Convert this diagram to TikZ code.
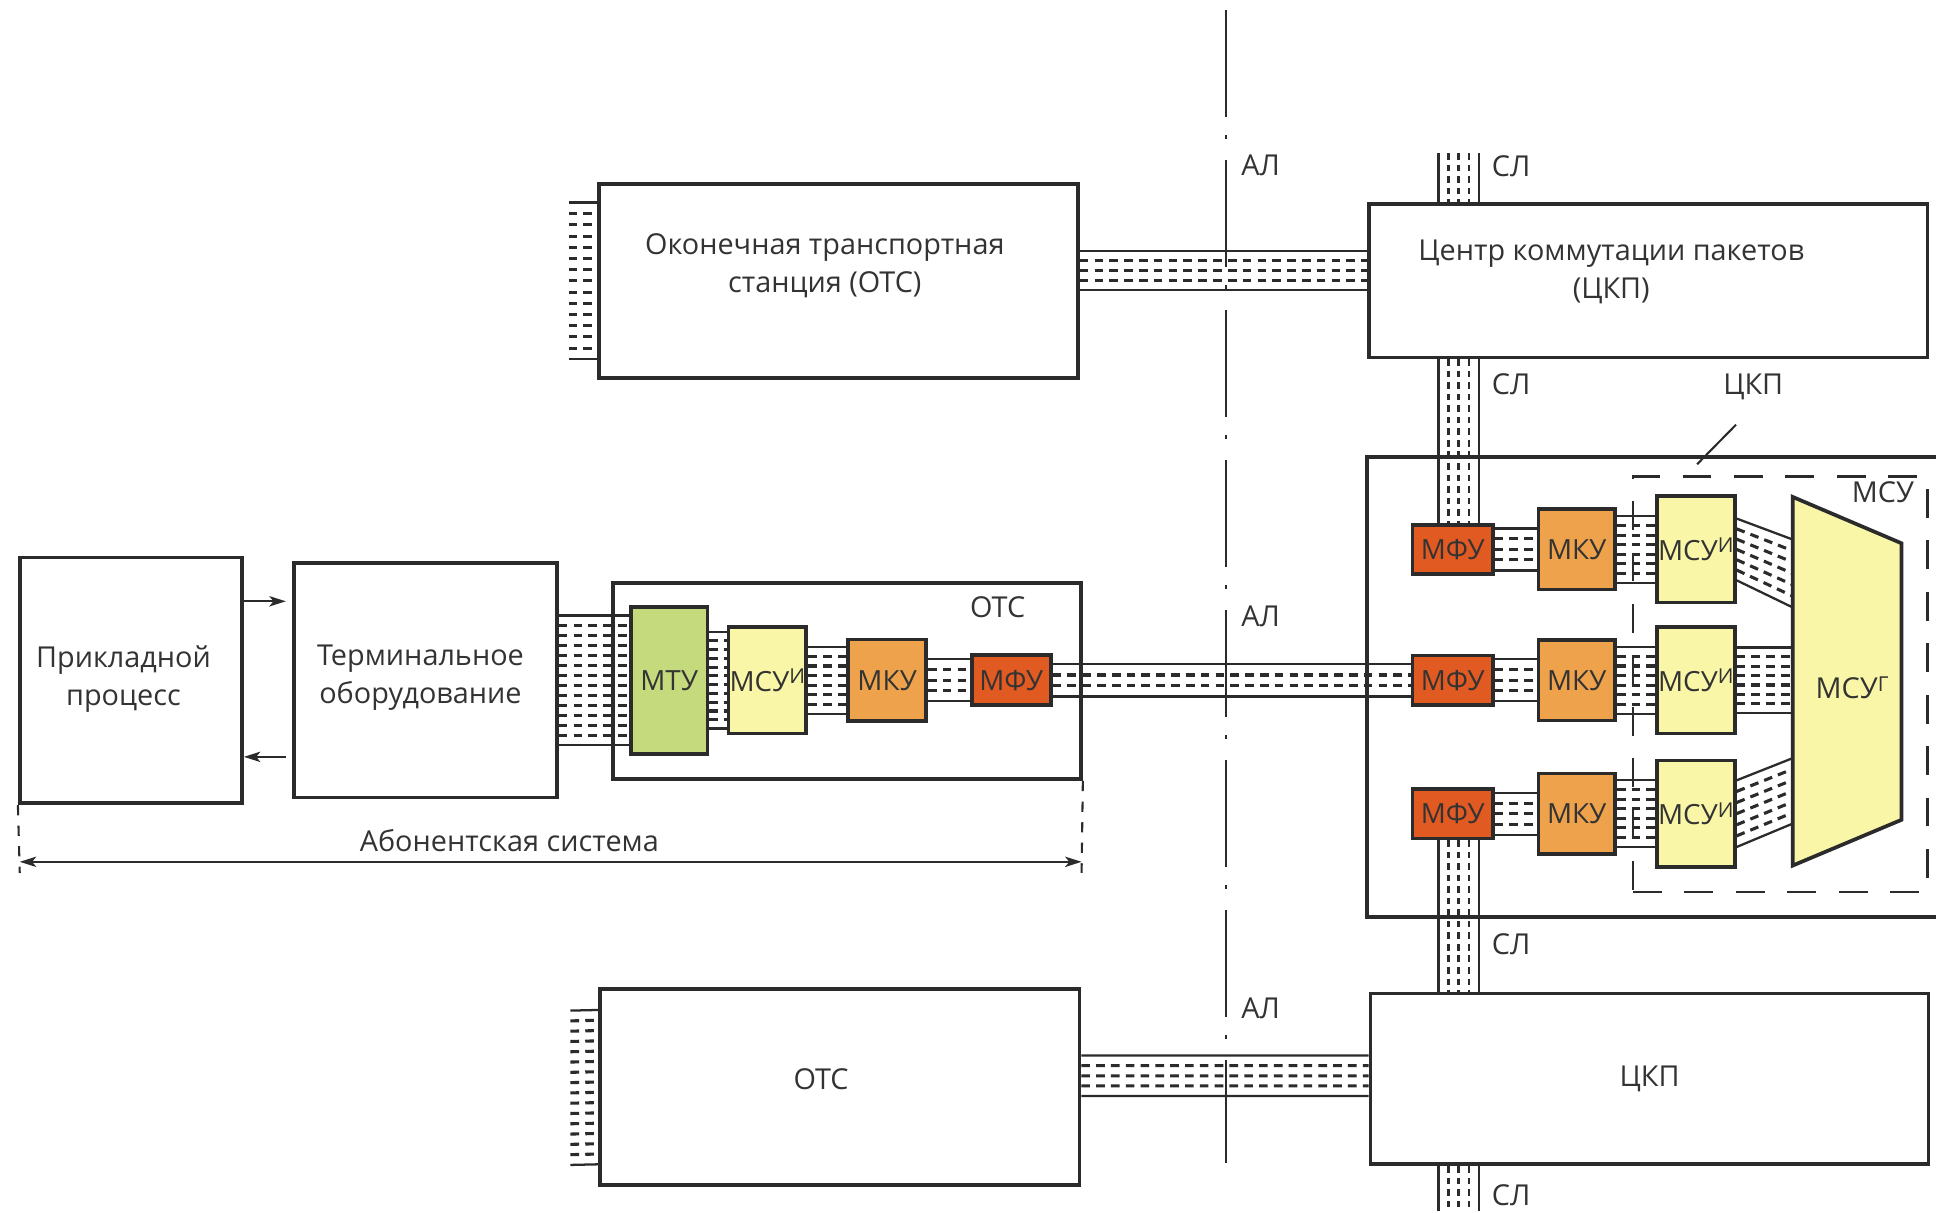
\documentclass[tikz,border=0pt]{standalone}
\usepackage{fontspec}
\setmainfont{Open Sans}
\usetikzlibrary{arrows.meta,calc}
\definecolor{ink}{HTML}{2B2B2B}
\definecolor{txt}{HTML}{333333}
\definecolor{cMTU}{HTML}{C5DA7C}
\definecolor{cMSU}{HTML}{FAF6A8}
\definecolor{cMKU}{HTML}{EEA24C}
\definecolor{cMFU}{HTML}{E15A22}
\newcommand\supi[1]{\raisebox{3.6pt}{\fontsize{10}{10}\selectfont #1}}
\tikzset{
  sz/.style 2 args={minimum width=#1*0.6pt, minimum height=#2*0.6pt},
  bigbox/.style={draw=ink, line width=1.8pt, inner sep=0pt, text=txt, font=\fontsize{14}{18.5}\selectfont, align=center},
  module/.style={draw=ink, line width=1.8pt, inner sep=0pt, text=txt, font=\fontsize{13.5}{16}\selectfont},
  chline/.style={draw=ink, line width=1.1pt},
  chdash/.style={draw=ink, line width=1.5pt, dash pattern=on 4.2pt off 3pt},
  chvdash/.style={draw=ink, line width=1.4pt, dash pattern=on 3.2pt off 2.4pt},
  lbl/.style={text=txt, font=\fontsize{14}{18.5}\selectfont, inner sep=0pt},
  endpt/.style={inner sep=0pt, outer sep=0pt, minimum size=0pt},
  arr/.style={draw=ink, line width=1pt, -{Stealth[length=8pt,width=5pt,inset=2pt]}},
}
% channel: #1 left point, #2 right point, #3 offL, #4 halfL, #5 offR, #6 halfR, #7 rows (disp units, + = up)
\newcommand\chan[7]{%
  \pgfmathsetmacro\chLT{(#3+#4)*0.6}\pgfmathsetmacro\chLB{(#3-#4)*0.6}%
  \pgfmathsetmacro\chRT{(#5+#6)*0.6}\pgfmathsetmacro\chRB{(#5-#6)*0.6}%
  \draw[chline] ($(#1)+(0pt,\chLT pt)$) -- ($(#2)+(0pt,\chRT pt)$);
  \draw[chline] ($(#1)+(0pt,\chLB pt)$) -- ($(#2)+(0pt,\chRB pt)$);
  \foreach \k in {1,...,#7}{%
    \pgfmathsetmacro\chL{(#3+#4-2*#4*\k/(#7+1))*0.6}%
    \pgfmathsetmacro\chR{(#5+#6-2*#6*\k/(#7+1))*0.6}%
    \draw[chdash] ($(#1)+(0pt,\chL pt)$) -- ($(#2)+(0pt,\chR pt)$);
  }%
}
\newcommand\chanH[5]{\chan{#1}{#2}{#3}{#4}{#3}{#4}{#5}}
% vertical channel: #1 top point, #2 bottom point, #3 half width, #4 columns
\newcommand\chanV[4]{%
  \pgfmathsetmacro\cvL{-#3*0.6}\pgfmathsetmacro\cvR{#3*0.6}%
  \draw[chline] ($(#1)+(\cvL pt,0pt)$) -- ($(#2)+(\cvL pt,0pt)$);
  \draw[chline] ($(#1)+(\cvR pt,0pt)$) -- ($(#2)+(\cvR pt,0pt)$);
  \foreach \k in {1,...,#4}{%
    \pgfmathsetmacro\cvX{(-#3+2*#3*\k/(#4+1))*0.6}%
    \draw[chvdash] ($(#1)+(\cvX pt,0pt)$) -- ($(#2)+(\cvX pt,0pt)$);
  }%
}
\begin{document}
\begin{tikzpicture}[x=0.6pt,y=-0.6pt]
\path[fill=white] (0,0) rectangle (1568,982);
\useasboundingbox (0,0) rectangle (1568,982);

% ---- big boxes
\node[bigbox, sz={180}{199}] (proc) at (106,551) {};
\node[lbl, align=center] (procT) at (100,550) {Прикладной\\процесс};
\node[bigbox, sz={213}{190}] (term) at (344.5,551) {};
\node[lbl, align=center] (termT) at (340.5,549) {Терминальное\\оборудование};
\node[bigbox, sz={388}{157.5}] (otsTop) at (679,227.5) {};
\node[lbl, align=center] (otsTopT) at (668,215) {Оконечная транспортная\\станция (ОТС)};
\node[bigbox, sz={452}{124}] (ckpTop) at (1335,227.5) {};
\node[lbl, align=center] (ckpTopT) at (1305,220) {Центр коммутации пакетов\\(ЦКП)};
\node[bigbox, sz={379}{159}] (otsMid) at (686,551.5) {};
\node[lbl] (otsMidT) at (808,492) {ОТС};
\node[bigbox, sz={493}{372.6}] (ckpBig) at (1353.5,556.3) {};
\node[bigbox, sz={388.5}{159}] (otsBot) at (680,880.5) {};
\node[lbl] (otsBotT) at (665,874) {ОТС};
\node[bigbox, sz={452}{138.4}] (ckpBot) at (1336,873.8) {ЦКП};

% ---- dashed MSU box
\node[draw=ink, line width=1.2pt, dash pattern=on 14pt off 11pt, sz={238.4}{336.6}] (msuBox) at (1441.8,554.3) {};
\node[lbl] (msuBoxT) at (1525,399) {МСУ};
\node[lbl] (ckpLbl) at (1420,313) {ЦКП};
\coordinate (slashA) at (1406,344);
\coordinate (slashB) at (1374.5,376);
\draw[ink, line width=1pt] (slashA) -- (slashB);

% ---- modules in middle OTS
\node[module, fill=cMTU, sz={62}{119}] (mtu) at (542,551) {МТУ};
\node[module, fill=cMSU, sz={63}{86}] (msuA) at (621.5,551) {МСУ\supi{И}};
\node[module, fill=cMKU, sz={63}{66}] (mkuA) at (718.5,551) {МКУ};
\node[module, fill=cMFU, sz={64}{40.5}] (mfuA) at (819,551) {МФУ};

% ---- modules in CKP
\foreach \r/\y in {1/445, 2/551, 3/659}{
  \node[module, fill=cMFU, sz={65}{40}] (mfu\r) at (1176.5,\y) {МФУ};
  \node[module, fill=cMKU, sz={62}{65}] (mku\r) at (1277,\y) {МКУ};
  \node[module, fill=cMSU, sz={63}{86}] (msu\r) at (1373.5,\y) {МСУ\supi{И}};
}
\coordinate (gTL) at (1452,402.5);
\coordinate (gTR) at (1540,440);
\coordinate (gBR) at (1540,664);
\coordinate (gBL) at (1452,701);
\draw[draw=ink, fill=cMSU, line width=1.8pt, line join=miter] (gTL) -- (gTR) -- (gBR) -- (gBL) -- cycle;
\node[lbl] (msuGT) at (1500,557) {МСУ\supi{Г}};

% ---- channel end points
\node[endpt] (stubTop) at (460.5,227.5) {};
\node[endpt] (stubBot) at (462,881) {};
\coordinate (slx) at (1181.5,0);
\node[endpt] (slTop) at (1181.5,124) {};
\node[endpt] (slBot) at (1181.5,981) {};

% ---- channels
\chanH{stubTop}{otsTop.west}{0}{63.5}{13}
\chanH{stubBot}{otsBot.west}{0}{62.5}{14}
\chanH{otsTop.east}{ckpTop.west}{8.5}{15.7}{3}
\chan{otsBot.east}{ckpBot.west}{9.2}{16.4}{2.5}{16.4}{3}
\chanH{term.east}{mtu.west}{0}{52.5}{12}
\chanH{mtu.east}{msuA.west}{0}{39}{10}
\chanH{msuA.east}{mkuA.west}{0}{27}{6}
\chanH{mkuA.east}{mfuA.west}{0}{17}{3}
\chanH{mfuA.east}{mfu2.west}{0}{13}{2}
\foreach \r in {1,2,3}{
  \chanH{mfu\r.east}{mku\r.west}{0}{17}{3}
  \chanH{mku\r.east}{msu\r.west}{0}{27}{6}
}
\chan{msu1.east}{msu1.east -| gTL}{0}{25}{-19.5}{27.5}{5}
\chanH{msu2.east}{msu2.east -| gTL}{0}{26.5}{6}
\chan{msu3.east}{msu3.east -| gTL}{0}{27}{18.5}{26.5}{5}
\chanV{slTop}{ckpTop.north -| slx}{16.5}{3}
\chanV{ckpTop.south -| slx}{mfu1.north -| slx}{16.5}{3}
\chanV{mfu3.south -| slx}{ckpBot.north -| slx}{16.5}{3}
\chanV{ckpBot.south -| slx}{slBot}{16.5}{3}

% ---- arrows between process and terminal
\draw[arr] ($(proc.east)+(0pt,38.4pt)$) -- ($(term.west)+(-3pt,38.4pt)$);
\draw[arr] ($(term.west)+(-3pt,-37.2pt)$) -- ($(proc.east)+(0pt,-37.2pt)$);

% ---- subscriber system dimension
\coordinate (dimL) at (16,698);
\coordinate (dimR) at (876,698);
\coordinate (extL) at (16,707);
\coordinate (extR) at (876,707);
\draw[ink, line width=1pt, dash pattern=on 5pt off 5pt] (proc.south west) -- (extL);
\draw[ink, line width=1pt, dash pattern=on 5pt off 5pt] (otsMid.south east) -- (extR);
\draw[ink, line width=1pt, {Stealth[length=8pt,width=5pt,inset=2pt]}-{Stealth[length=8pt,width=5pt,inset=2pt]}] (dimL) -- (dimR);
\node[lbl] (abon) at (412.5,681) {Абонентская система};

% ---- AL dash-dot line
\coordinate (alTop) at (993,8);
\coordinate (alBot) at (993,942);
\draw[ink, line width=0.8pt, dash pattern=on 52.2pt off 8.7pt on 1.8pt off 10.2pt] (alTop) -- (alBot);
\node[lbl, anchor=west] (al1) at (1005,134) {АЛ};
\node[lbl, anchor=west] (al2) at (1005,499) {АЛ};
\node[lbl, anchor=west] (al3) at (1005,817) {АЛ};
\node[lbl, anchor=west] (sl1) at (1208,135) {СЛ};
\node[lbl, anchor=west] (sl2) at (1208,311) {СЛ};
\node[lbl, anchor=west] (sl3) at (1208,765) {СЛ};
\node[lbl, anchor=west] (sl4) at (1208,968) {СЛ};
\end{tikzpicture}
\end{document}
